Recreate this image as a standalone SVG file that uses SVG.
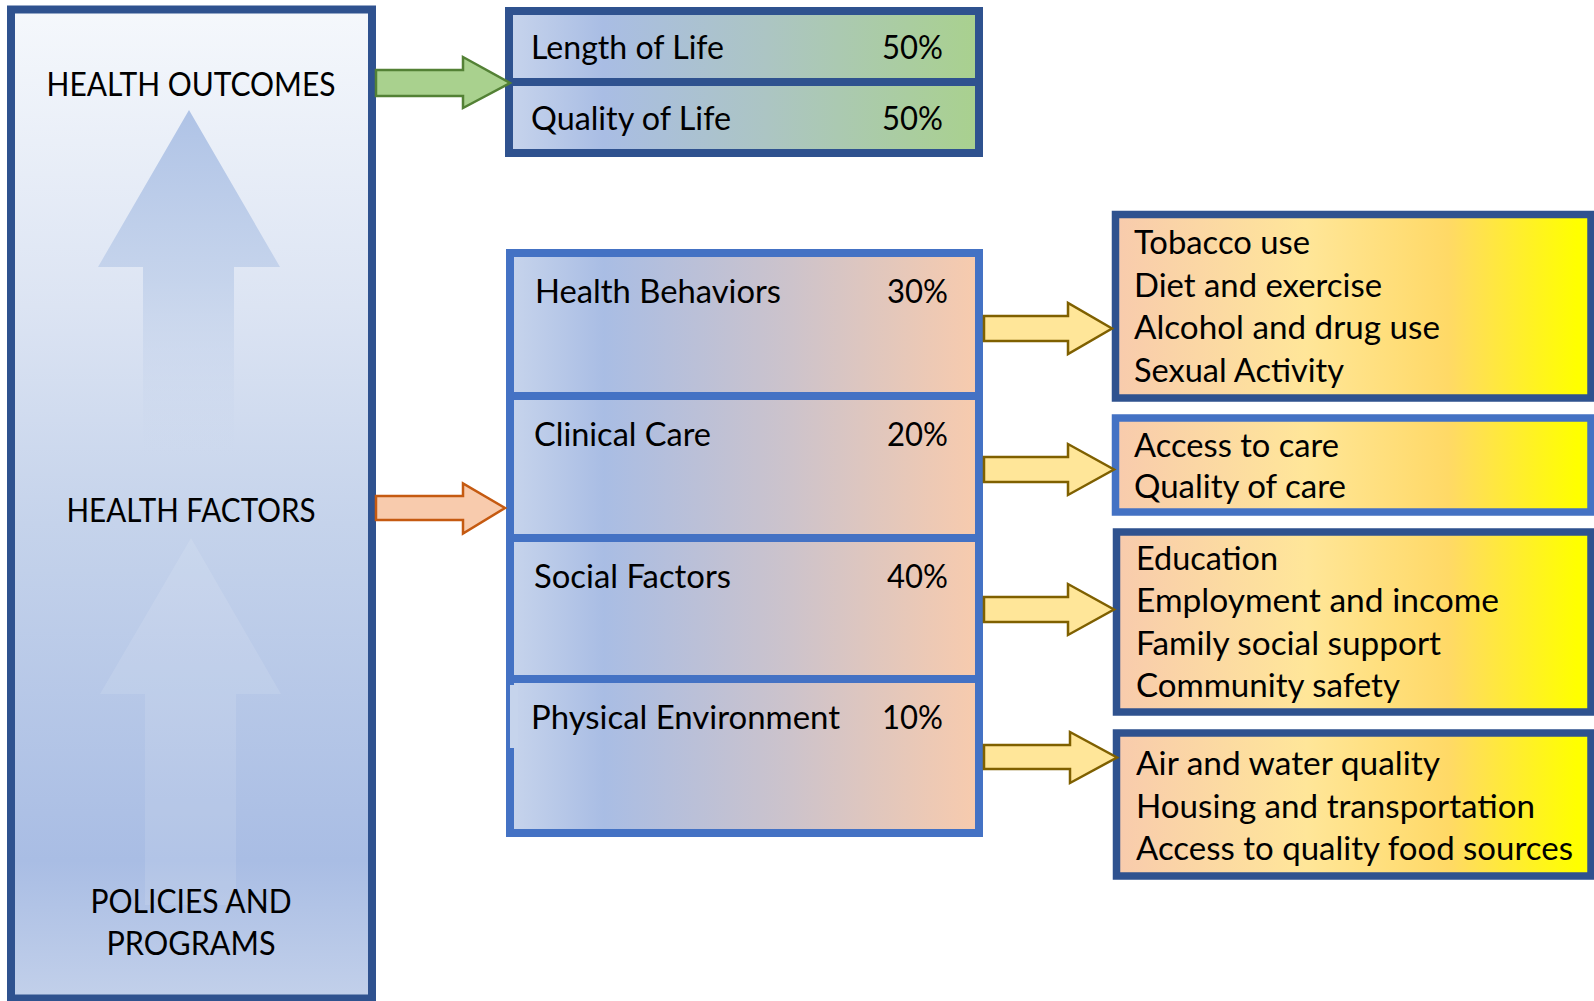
<svg xmlns="http://www.w3.org/2000/svg" width="1594" height="1001" viewBox="0 0 1594 1001">
  <defs>
    <style>
      text { font-family: Lato, "Open Sans", "Liberation Sans", sans-serif; font-size: 32px; fill: #000; }
      .big { stroke: #2f528f; stroke-width: 8; }
      .mid { stroke: #4472c4; stroke-width: 8; }
      .item-dark { stroke: #2f528f; stroke-width: 7.5; fill: url(#gItem); }
      .item-light { stroke: #4472c4; stroke-width: 7.5; fill: url(#gItem); }
      .factor { fill: url(#gFactor); }
      .outcome { fill: url(#gOutcome); }
      .arrow-y { fill: #ffe699; stroke: #7f6000; stroke-width: 2.5; stroke-linejoin: miter; }
    </style>
    <linearGradient id="gPanel" x1="0" y1="0" x2="0" y2="1">
      <stop offset="0" stop-color="#f5f8fc"/>
      <stop offset="0.3" stop-color="#dce4f3"/>
      <stop offset="0.52" stop-color="#c5d3eb"/>
      <stop offset="0.86" stop-color="#a9bde4"/>
      <stop offset="1" stop-color="#c2d0ea"/>
    </linearGradient>
    <linearGradient id="gUpArrowTop" gradientUnits="userSpaceOnUse" x1="0" y1="110" x2="0" y2="455">
      <stop offset="0" stop-color="#afc3e6" stop-opacity="1"/>
      <stop offset="0.5" stop-color="#c3d2eb" stop-opacity="0.9"/>
      <stop offset="1" stop-color="#c8d5ec" stop-opacity="0"/>
    </linearGradient>
    <linearGradient id="gOutcome" x1="0" y1="0" x2="1" y2="0">
      <stop offset="0" stop-color="#c7d4ec"/>
      <stop offset="0.2" stop-color="#a9bde4"/>
      <stop offset="0.55" stop-color="#acc5c3"/>
      <stop offset="1" stop-color="#a9d18e"/>
    </linearGradient>
    <linearGradient id="gFactor" x1="0" y1="0" x2="1" y2="0">
      <stop offset="0" stop-color="#c7d4ec"/>
      <stop offset="0.2" stop-color="#a9bde4"/>
      <stop offset="0.6" stop-color="#cdc3cb"/>
      <stop offset="1" stop-color="#f8cbad"/>
    </linearGradient>
    <linearGradient id="gItem" x1="0" y1="0" x2="1" y2="0">
      <stop offset="0" stop-color="#f8cbad"/>
      <stop offset="0.4" stop-color="#ffe699"/>
      <stop offset="0.7" stop-color="#ffd966"/>
      <stop offset="0.97" stop-color="#ffff00"/>
    </linearGradient>
  </defs>

  <rect x="0" y="0" width="1594" height="1001" fill="#ffffff"/>

  <!-- Left panel: outcomes built on factors built on policies -->
  <g id="model-panel">
    <rect x="11" y="9.5" width="361" height="989" fill="url(#gPanel)" class="big"/>
    <polygon points="189,110 280,267 234,267 234,455 143,455 143,267 98,267" fill="url(#gUpArrowTop)"/>
    <polygon points="191,538 281,694 236,694 236,905 145,905 145,694 100,694" fill="#ffffff" fill-opacity="0.11"/>
    <text x="191" y="96" text-anchor="middle" textLength="289" lengthAdjust="spacingAndGlyphs">HEALTH OUTCOMES</text>
    <text x="191" y="522" text-anchor="middle" textLength="249" lengthAdjust="spacingAndGlyphs">HEALTH FACTORS</text>
    <text x="191" y="913" text-anchor="middle" textLength="201" lengthAdjust="spacingAndGlyphs">POLICIES AND</text>
    <text x="191" y="955" text-anchor="middle" textLength="169" lengthAdjust="spacingAndGlyphs">PROGRAMS</text>
  </g>

  <!-- Health outcomes -->
  <g id="length-of-life">
    <rect x="509" y="11" width="470" height="71" class="outcome big"/>
    <text x="531" y="59" textLength="193" lengthAdjust="spacingAndGlyphs">Length of Life</text>
    <text x="882" y="59" textLength="61" lengthAdjust="spacingAndGlyphs">50%</text>
  </g>
  <g id="quality-of-life">
    <rect x="509" y="82" width="470" height="71" class="outcome big"/>
    <text x="531" y="130" textLength="200" lengthAdjust="spacingAndGlyphs">Quality of Life</text>
    <text x="882" y="130" textLength="61" lengthAdjust="spacingAndGlyphs">50%</text>
  </g>

  <!-- Health factors -->
  <g id="health-behaviors">
    <rect x="510" y="253" width="469" height="143" class="factor mid"/>
    <text x="535" y="303" textLength="246" lengthAdjust="spacingAndGlyphs">Health Behaviors</text>
    <text x="887" y="303" textLength="61" lengthAdjust="spacingAndGlyphs">30%</text>
  </g>
  <g id="clinical-care">
    <rect x="510" y="396" width="469" height="142" class="factor mid"/>
    <text x="534" y="446" textLength="177" lengthAdjust="spacingAndGlyphs">Clinical Care</text>
    <text x="887" y="446" textLength="61" lengthAdjust="spacingAndGlyphs">20%</text>
  </g>
  <g id="social-factors">
    <rect x="510" y="538" width="469" height="141" class="factor mid"/>
    <text x="534" y="588" textLength="197" lengthAdjust="spacingAndGlyphs">Social Factors</text>
    <text x="887" y="588" textLength="61" lengthAdjust="spacingAndGlyphs">40%</text>
  </g>
  <g id="physical-environment">
    <rect x="510" y="679" width="469" height="154" class="factor mid"/>
    <rect x="510" y="685" width="8" height="63" fill="#c6d4ec"/>
    <text x="531" y="729" textLength="309" lengthAdjust="spacingAndGlyphs">Physical Environment</text>
    <text x="882" y="729" textLength="61" lengthAdjust="spacingAndGlyphs">10%</text>
  </g>

  <!-- Detail lists -->
  <g id="behaviors-list">
    <rect x="1115.5" y="214.5" width="475.5" height="183.5" class="item-dark"/>
    <text x="1134" y="254" textLength="176" lengthAdjust="spacingAndGlyphs">Tobacco use</text>
    <text x="1134" y="297" textLength="248" lengthAdjust="spacingAndGlyphs">Diet and exercise</text>
    <text x="1134" y="339" textLength="306" lengthAdjust="spacingAndGlyphs">Alcohol and drug use</text>
    <text x="1134" y="382" textLength="210" lengthAdjust="spacingAndGlyphs">Sexual Activity</text>
  </g>
  <g id="care-list">
    <rect x="1115.5" y="418" width="475.5" height="94" class="item-light"/>
    <text x="1134" y="457" textLength="205" lengthAdjust="spacingAndGlyphs">Access to care</text>
    <text x="1134" y="498" textLength="212" lengthAdjust="spacingAndGlyphs">Quality of care</text>
  </g>
  <g id="social-list">
    <rect x="1116.5" y="532" width="474.5" height="180" class="item-dark"/>
    <text x="1136" y="570" textLength="142" lengthAdjust="spacingAndGlyphs">Education</text>
    <text x="1136" y="612" textLength="363" lengthAdjust="spacingAndGlyphs">Employment and income</text>
    <text x="1136" y="655" textLength="305" lengthAdjust="spacingAndGlyphs">Family social support</text>
    <text x="1136" y="697" textLength="264" lengthAdjust="spacingAndGlyphs">Community safety</text>
  </g>
  <g id="environment-list">
    <rect x="1116.5" y="733" width="474.5" height="143" class="item-dark"/>
    <text x="1136" y="775" textLength="304" lengthAdjust="spacingAndGlyphs">Air and water quality</text>
    <text x="1136" y="818" textLength="399" lengthAdjust="spacingAndGlyphs">Housing and transportation</text>
    <text x="1136" y="860" textLength="437" lengthAdjust="spacingAndGlyphs">Access to quality food sources</text>
  </g>

  <!-- Block arrows between the columns -->
  <g id="connectors">
    <polygon points="376,70 463,70 463,57 510,83 463,108 463,96 376,96" fill="#a9d18e" stroke="#538135" stroke-width="2.5"/>
    <polygon points="376,496 463,496 463,483.5 505,508 463,533.5 463,520 376,520" fill="#f8cbad" stroke="#c55a11" stroke-width="2.5"/>
    <polygon points="984,316 1068,316 1068,303 1112,328.5 1068,354 1068,341 984,341" class="arrow-y"/>
    <polygon points="984,457 1068,457 1068,444 1114,469.5 1068,495 1068,482 984,482" class="arrow-y"/>
    <polygon points="984,597 1068,597 1068,584 1114,609.5 1068,635 1068,622 984,622" class="arrow-y"/>
    <polygon points="984,745 1070,745 1070,732 1117,757.5 1070,783 1070,769 984,769" class="arrow-y"/>
  </g>
</svg>
